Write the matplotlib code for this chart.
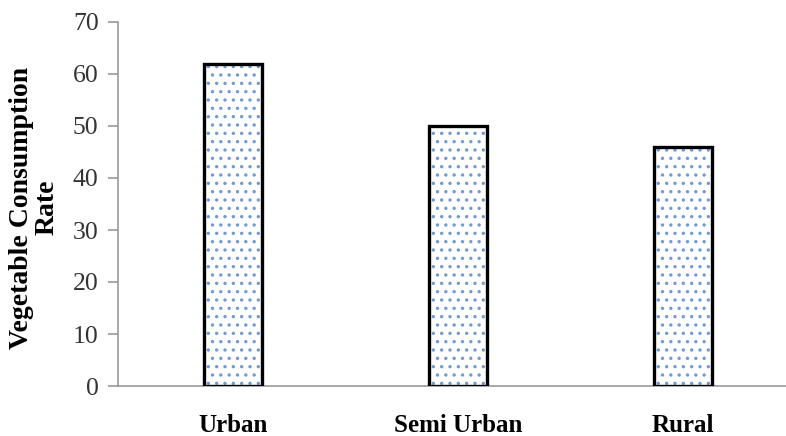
import matplotlib
matplotlib.use("Agg")
import matplotlib.pyplot as plt

categories = ["Urban", "Semi Urban", "Rural"]
values = [62, 50, 46]
yticks = [0, 10, 20, 30, 40, 50, 60, 70]

plt.rcParams['font.family'] = ['Liberation Serif', 'DejaVu Serif']
plt.rcParams['hatch.linewidth'] = 1.2

W, H = 786, 436
fig = plt.figure(figsize=(W / 100, H / 100), dpi=100)
ax = fig.add_axes([118 / W, 1 - 386 / H, (786 - 118) / W, (386 - 22) / H])

x = list(range(len(categories)))
bar_w = 0.26
# dotted fill (hatch takes the edge colour, so it is drawn as its own layer)
ax.bar(x, values, width=bar_w, facecolor='white', edgecolor='#6f9ad8',
       linewidth=0, hatch='..', zorder=2)
# black outline on top
ax.bar(x, values, width=bar_w, fill=False, edgecolor='black',
       linewidth=2.4, zorder=3)

ax.set_xlim(-0.511, 2.458)
ax.set_ylim(0, 70)
ax.set_yticks(yticks)
ax.set_xticks(x)
ax.set_xticklabels(categories, fontsize=18, fontweight='bold')
ax.tick_params(axis='x', length=0, pad=20)
ax.tick_params(axis='y', length=7, width=1.2, color='#999999', labelsize=18.5,
               pad=7, labelcolor='#333333')

for s in ['top', 'right']:
    ax.spines[s].set_visible(False)
for s in ['left', 'bottom']:
    ax.spines[s].set_color('#999999')
    ax.spines[s].set_linewidth(1.2)

ax.set_ylabel("Vegetable Consumption\nRate", fontsize=20, fontweight='bold',
              linespacing=1.0)
ax.yaxis.set_label_coords(-0.088, 0.49)

fig.savefig("out.png", dpi=100)
